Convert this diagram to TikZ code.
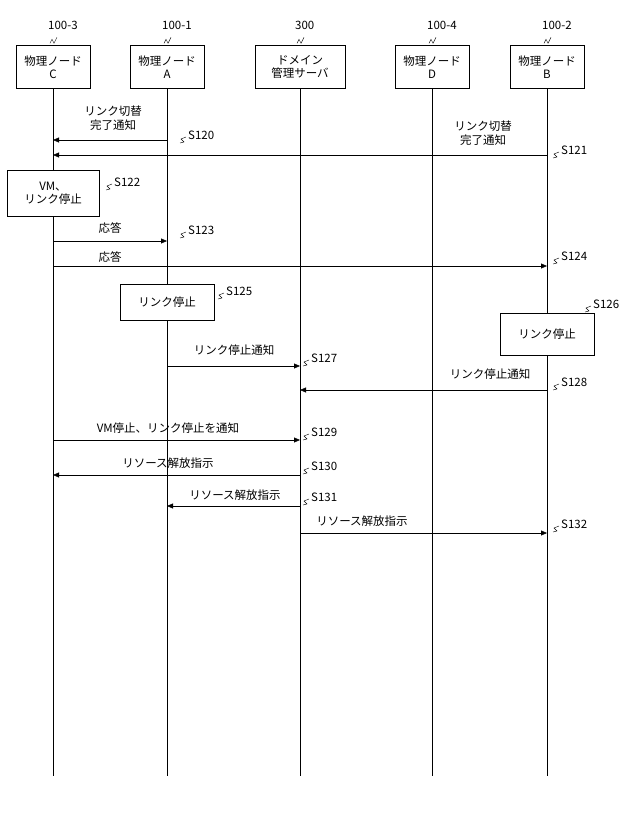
\documentclass[tikz,border=0pt]{standalone}
\usepackage{fontspec}
\setmainfont{Noto Sans CJK JP}
\usetikzlibrary{arrows.meta,positioning,calc}
\begin{document}
\begin{tikzpicture}[x=1pt,y=-1pt,font=\fontsize{11.5}{13.5}\selectfont]
  \tikzstyle{entity}=[draw, fill=white, minimum width=74pt, minimum height=43pt, align=center, inner sep=1pt]
  \tikzstyle{action}=[draw, fill=white, align=center, inner sep=3pt, minimum height=34pt]
  \tikzstyle{life}=[thin]
  \tikzstyle{msg}=[thin, -{Triangle[length=6pt,width=5pt]}]
  \tikzstyle{tag}=[inner sep=1pt]
  \tikzstyle{wiggle}=[thin]

  \useasboundingbox (0,0) rectangle (640,835);

  % entities
  \node [entity] (C) at (53,67) {物理ノード\\C};
  \node [entity] (A) at (167,67) {物理ノード\\A};
  \node [entity, minimum width=90pt] (S) at (300,67) {ドメイン\\管理サーバ};
  \node [entity] (D) at (432,67) {物理ノード\\D};
  \node [entity] (B) at (547,67) {物理ノード\\B};

  \foreach \n/\t in {C/100-3,A/100-1,S/300,D/100-4,B/100-2} {
    \node [tag, above right=14pt and -6pt of \n.north] {\t};
    \draw [wiggle] ($(\n.north)+(-3,-2)$) -- ++(2,-4) -- ++(2,4) -- ++(2,-4) -- ++(1,-2);
    \coordinate (\n end) at ($(\n.south)+(0,687)$);
    \draw [life] (\n.south) -- (\n end);
  }

  % step labels
  \newcommand{\steplabel}[3]{%
    \draw [wiggle] (#1,#2) -- ++(4,-1) -- ++(-3,-3) -- ++(5,-2);
    \node [tag, anchor=west] at ($(#1,#2)+(7,-8)$) {#3};}

  % S120, S121
  \coordinate (a120) at (A |- 0,140);
  \draw [msg] (a120) -- (a120 -| C);
  \node [align=center] at (113,118) {リンク切替\\完了通知};
  \steplabel{180}{143}{S120}
  \coordinate (b121) at (B |- 0,155);
  \draw [msg] (b121) -- (b121 -| C);
  \node [align=center] at (483,133) {リンク切替\\完了通知};
  \steplabel{553}{158}{S121}

  % S122
  \node [action, minimum width=92pt, minimum height=46pt] (vm) at (53,193) {VM、\\リンク停止};
  \steplabel{106}{190}{S122}

  % S123, S124
  \coordinate (c123) at (C |- 0,241);
  \draw [msg] (c123) -- (c123 -| A);
  \node at (110,228) {応答};
  \steplabel{180}{238}{S123}
  \coordinate (c124) at (C |- 0,266);
  \draw [msg] (c124) -- (c124 -| B);
  \node at (110,257) {応答};
  \steplabel{553}{264}{S124}

  % S125, S126
  \node [action, minimum width=94pt, minimum height=36pt] (stopA) at (167,302) {リンク停止};
  \steplabel{218}{299}{S125}
  \node [action, minimum width=94pt, minimum height=42pt] (stopB) at (547,334) {リンク停止};
  \steplabel{585}{312}{S126}

  % S127, S128
  \coordinate (a127) at (A |- 0,366);
  \draw [msg] (a127) -- (a127 -| S);
  \node at (234,350) {リンク停止通知};
  \steplabel{303}{366}{S127}
  \coordinate (b128) at (B |- 0,390);
  \draw [msg] (b128) -- (b128 -| S);
  \node at (490,374) {リンク停止通知};
  \steplabel{553}{390}{S128}

  % S129 - S132
  \coordinate (c129) at (C |- 0,440);
  \draw [msg] (c129) -- (c129 -| S);
  \node at (168,428) {VM停止、リンク停止を通知};
  \steplabel{303}{440}{S129}
  \coordinate (s130) at (S |- 0,475);
  \draw [msg] (s130) -- (s130 -| C);
  \node at (168,463) {リソース解放指示};
  \steplabel{303}{474}{S130}
  \coordinate (s131) at (S |- 0,506);
  \draw [msg] (s131) -- (s131 -| A);
  \node at (235,495) {リソース解放指示};
  \steplabel{303}{505}{S131}
  \coordinate (s132) at (S |- 0,533);
  \draw [msg] (s132) -- (s132 -| B);
  \node at (362,521) {リソース解放指示};
  \steplabel{553}{532}{S132}
\end{tikzpicture}
\end{document}
